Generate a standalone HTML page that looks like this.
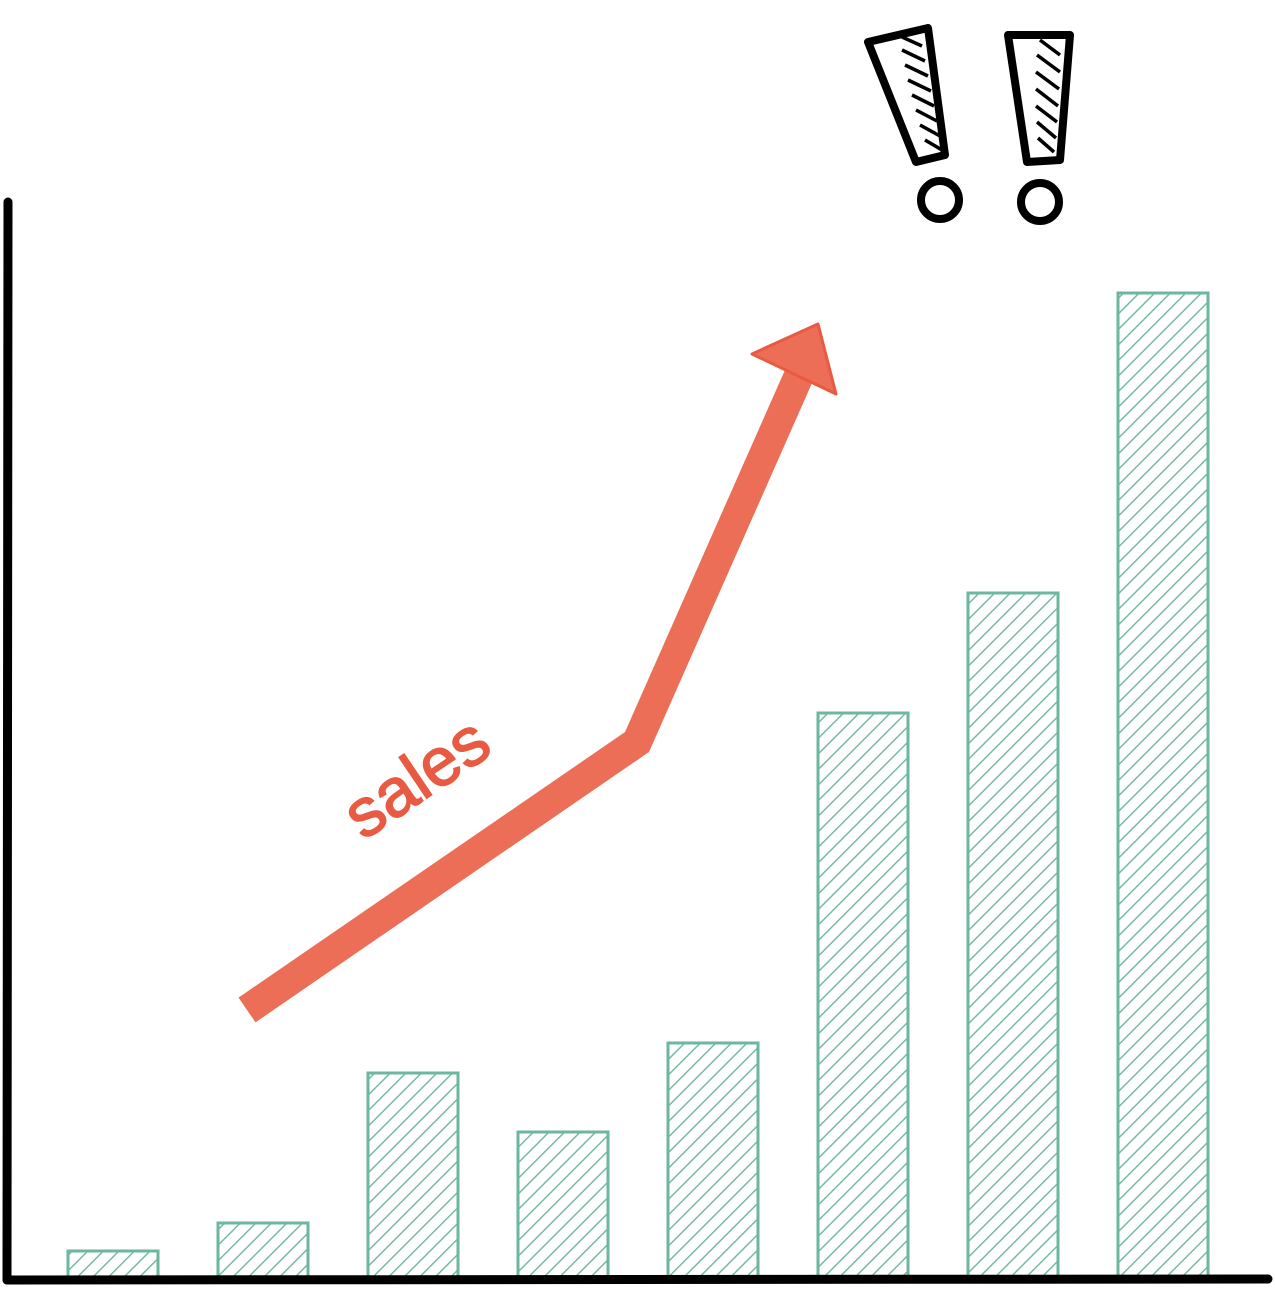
<!DOCTYPE html>
<html><head><meta charset="utf-8"><style>
html,body{margin:0;padding:0;background:#fff;}
svg{display:block;}
</style></head><body>
<svg id="chart" width="1275" height="1293" viewBox="0 0 1275 1293" xmlns="http://www.w3.org/2000/svg">
<defs>
<pattern id="hatch" patternUnits="userSpaceOnUse" width="11" height="11" patternTransform="rotate(45)">
<line x1="0" y1="0" x2="0" y2="11" stroke="#6db6a0" stroke-width="2.8"/>
</pattern>
</defs>
<g id="bars"></g>
<line x1="8" y1="202" x2="7" y2="1280" stroke="#000" stroke-width="9" stroke-linecap="round"/>
<line x1="7" y1="1280" x2="1268" y2="1279" stroke="#000" stroke-width="9" stroke-linecap="round"/>
<g>
<polyline points="247,1010 637,742 808,355" fill="none" stroke="#ec6e57" stroke-width="30" stroke-linejoin="miter"/>
<polygon points="818,324 752,354 836,394" fill="#ec6e57" stroke="#e95a42" stroke-width="3" stroke-linejoin="round"/>
</g>
<text x="418" y="800" transform="rotate(-34 418 780)" text-anchor="middle" font-family="Liberation Sans, sans-serif" font-size="68" fill="#e95a42" stroke="#e95a42" stroke-width="1.5">sales</text>
<g fill="none" stroke="#000" stroke-width="8" stroke-linejoin="round">
<polygon points="868,42 928,28 945,155 916,162"/>
<circle cx="940" cy="200" r="19"/>
<polygon points="1008,35 1070,35 1060,160 1027,162"/>
<circle cx="1040" cy="202" r="19"/>
<g stroke-width="3.5">
<line x1="902" y1="37" x2="922" y2="46"/><line x1="902" y1="50" x2="925" y2="61"/><line x1="905" y1="65" x2="928" y2="76"/><line x1="908" y1="80" x2="931" y2="91"/><line x1="912" y1="95" x2="934" y2="106"/><line x1="916" y1="110" x2="937" y2="121"/><line x1="920" y1="125" x2="940" y2="136"/><line x1="925" y1="140" x2="942" y2="150"/>
<line x1="1040" y1="40" x2="1060" y2="55"/><line x1="1037" y1="55" x2="1060" y2="72"/><line x1="1036" y1="72" x2="1059" y2="89"/><line x1="1036" y1="89" x2="1058" y2="106"/><line x1="1036" y1="106" x2="1057" y2="122"/><line x1="1037" y1="122" x2="1056" y2="138"/><line x1="1038" y1="138" x2="1054" y2="152"/>
</g>
</g>
</svg>
<script>
const categories = ["b1","b2","b3","b4","b5","b6","b7","b8"];
const values = [2.7, 5.5, 20.5, 14.6, 23.5, 56.5, 68.5, 98.5];
const baseY = 1278, pxPerUnit = 10, firstX = 68, step = 150, barW = 90;
function xPos(i){ return firstX + i*step; }
function yPos(v){ return baseY - v*pxPerUnit; }
const g = document.getElementById('bars');
const ns = 'http://www.w3.org/2000/svg';
values.forEach((v,i)=>{
  const r = document.createElementNS(ns,'rect');
  r.setAttribute('x', xPos(i));
  r.setAttribute('y', yPos(v));
  r.setAttribute('width', barW);
  r.setAttribute('height', baseY - yPos(v));
  r.setAttribute('fill','url(#hatch)');
  r.setAttribute('stroke','#6db6a0');
  r.setAttribute('stroke-width','3');
  
  
  g.appendChild(r);
});
</script>
</body></html>
